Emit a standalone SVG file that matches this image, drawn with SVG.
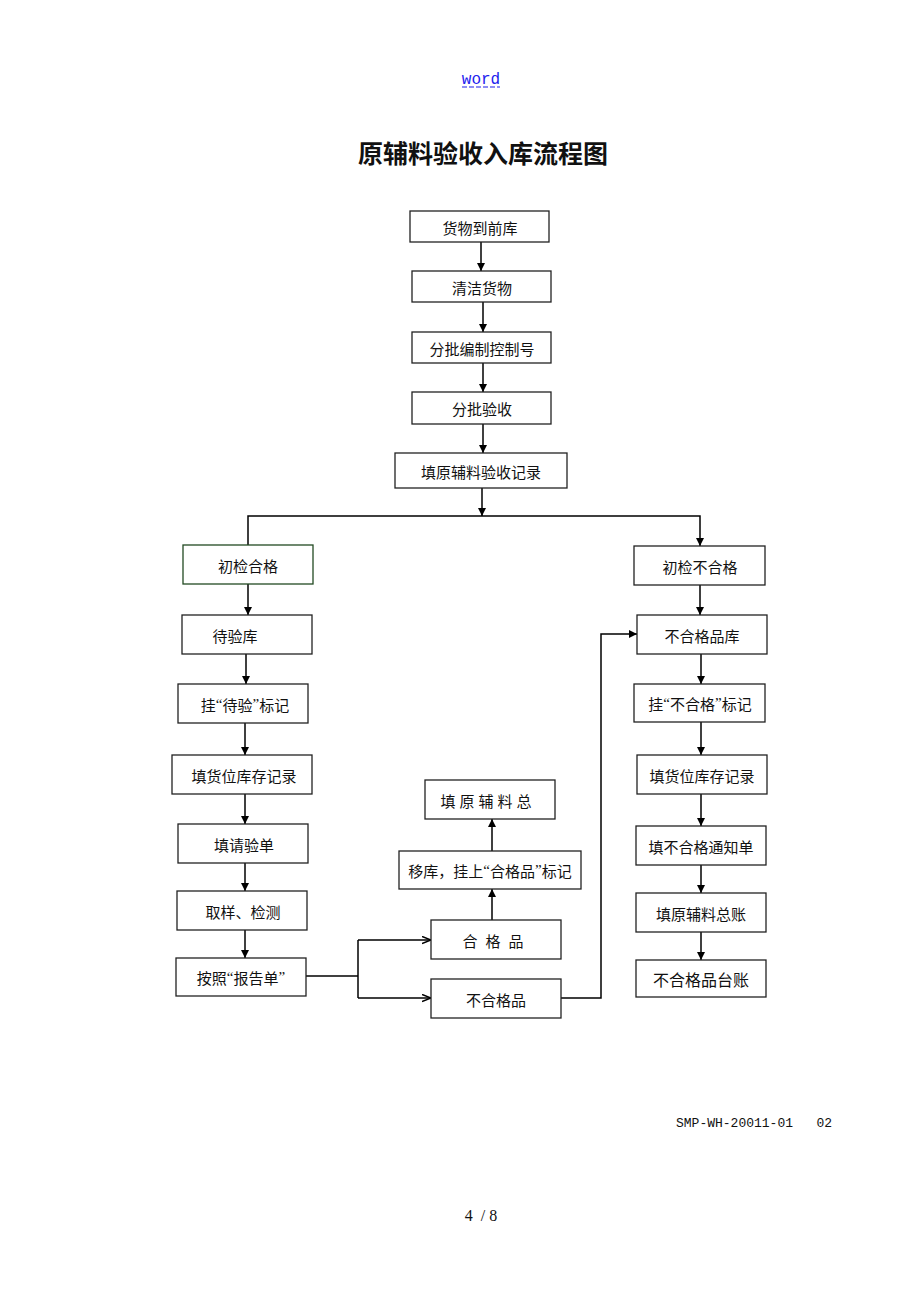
<svg xmlns="http://www.w3.org/2000/svg" width="920" height="1302" viewBox="0 0 920 1302">
<style>
.b{fill:#fff;stroke:#222;stroke-width:1.3}
.t{font-family:"Noto Sans CJK SC","Liberation Serif",serif;font-size:15px;fill:#111;text-anchor:middle;dominant-baseline:central}
.q{font-family:"Liberation Serif",serif}
.c{fill:none;stroke:#000;stroke-width:1.5}
</style>
<defs>
<marker id="a" viewBox="0 0 10 10" refX="10" refY="5" markerWidth="8" markerHeight="8" markerUnits="userSpaceOnUse" orient="auto"><path d="M0,0L10,5L0,10z" fill="#000"/></marker>
<marker id="o" viewBox="0 0 10 10" refX="10" refY="5" markerWidth="9" markerHeight="9" markerUnits="userSpaceOnUse" orient="auto"><path d="M0,1L10,5L0,9" fill="none" stroke="#000" stroke-width="1.6"/></marker>
</defs>
<rect width="920" height="1302" fill="#fff"/>
<text x="481" y="84" font-family="Liberation Mono,monospace" font-size="16" fill="#2222ee" text-anchor="middle">word</text>
<line x1="462" y1="87" x2="500" y2="87" stroke="#6a6af0" stroke-width="1.3" stroke-dasharray="5,2"/>
<text x="483" y="163" font-family="Noto Sans CJK SC,sans-serif" font-size="25" font-weight="bold" fill="#111" text-anchor="middle">原辅料验收入库流程图</text>
<g id="connectors">
<line class="c" x1="481" y1="242" x2="481" y2="271" marker-end="url(#a)"/>
<line class="c" x1="483" y1="302" x2="483" y2="332" marker-end="url(#a)"/>
<line class="c" x1="483" y1="363" x2="483" y2="392" marker-end="url(#a)"/>
<line class="c" x1="483" y1="424" x2="483" y2="453" marker-end="url(#a)"/>
<line class="c" x1="482" y1="488" x2="482" y2="516" marker-end="url(#a)"/>
<polyline class="c" points="248,545 248,516 700,516 700,546" marker-end="url(#a)"/>
<line class="c" x1="248" y1="584" x2="248" y2="615" marker-end="url(#a)"/>
<line class="c" x1="246" y1="654" x2="246" y2="684" marker-end="url(#a)"/>
<line class="c" x1="245" y1="723" x2="245" y2="755" marker-end="url(#a)"/>
<line class="c" x1="245" y1="794" x2="245" y2="824" marker-end="url(#a)"/>
<line class="c" x1="245" y1="863" x2="245" y2="891" marker-end="url(#a)"/>
<line class="c" x1="245" y1="930" x2="245" y2="958" marker-end="url(#a)"/>
<line class="c" x1="306" y1="976" x2="358" y2="976"/>
<line class="c" x1="358" y1="940" x2="358" y2="998"/>
<line class="c" x1="358" y1="940" x2="431" y2="940" marker-end="url(#o)"/>
<line class="c" x1="358" y1="998" x2="431" y2="998" marker-end="url(#o)"/>
<polyline class="c" points="561,998 601,998 601,634 637,634" marker-end="url(#a)"/>
<line class="c" x1="492" y1="920" x2="492" y2="889" marker-end="url(#a)"/>
<line class="c" x1="492" y1="851" x2="492" y2="819" marker-end="url(#a)"/>
<line class="c" x1="700" y1="585" x2="700" y2="615" marker-end="url(#a)"/>
<line class="c" x1="701" y1="654" x2="701" y2="684" marker-end="url(#a)"/>
<line class="c" x1="701" y1="722" x2="701" y2="755" marker-end="url(#a)"/>
<line class="c" x1="701" y1="794" x2="701" y2="826" marker-end="url(#a)"/>
<line class="c" x1="701" y1="865" x2="701" y2="893" marker-end="url(#a)"/>
<line class="c" x1="701" y1="932" x2="701" y2="960" marker-end="url(#a)"/>
</g>
<g id="n1"><rect class="b" x="410" y="211" width="139" height="31"/><text class="t" x="480" y="227">货物到前库</text></g>
<g id="n2"><rect class="b" x="412" y="271" width="139" height="31"/><text class="t" x="482" y="287">清洁货物</text></g>
<g id="n3"><rect class="b" x="412" y="332" width="139" height="31"/><text class="t" x="482" y="348">分批编制控制号</text></g>
<g id="n4"><rect class="b" x="412" y="392" width="139" height="32"/><text class="t" x="482" y="408">分批验收</text></g>
<g id="n5"><rect class="b" x="395" y="453" width="172" height="35"/><text class="t" x="481" y="471">填原辅料验收记录</text></g>
<g id="l1"><rect class="b" x="183" y="545" width="130" height="39" style="stroke:#234a23"/><text class="t" x="248" y="565">初检合格</text></g>
<g id="l2"><rect class="b" x="182" y="615" width="130" height="39"/><text class="t" x="235" y="635">待验库</text></g>
<g id="l3"><rect class="b" x="178" y="684" width="130" height="39"/><text class="t" x="245" y="704">挂<tspan class="q">“</tspan>待验<tspan class="q">”</tspan>标记</text></g>
<g id="l4"><rect class="b" x="172" y="755" width="140" height="39"/><text class="t" x="244" y="775">填货位库存记录</text></g>
<g id="l5"><rect class="b" x="178" y="824" width="130" height="39"/><text class="t" x="244" y="844">填请验单</text></g>
<g id="l6"><rect class="b" x="177" y="891" width="130" height="39"/><text class="t" x="243" y="911">取样、检测</text></g>
<g id="l7"><rect class="b" x="176" y="958" width="130" height="38"/><text class="t" x="241" y="977">按照<tspan class="q">“</tspan>报告单<tspan class="q">”</tspan></text></g>
<g id="m1"><rect class="b" x="425" y="780" width="130" height="39"/><text class="t" x="488" y="800" letter-spacing="4">填原辅料总</text></g>
<g id="m2"><rect class="b" x="399" y="851" width="182" height="38"/><text class="t" x="490" y="870">移库，挂上<tspan class="q">“</tspan>合格品<tspan class="q">”</tspan>标记</text></g>
<g id="m3"><rect class="b" x="431" y="920" width="130" height="39"/><text class="t" x="497" y="940" letter-spacing="8">合格品</text></g>
<g id="m4"><rect class="b" x="431" y="979" width="130" height="39"/><text class="t" x="496" y="999">不合格品</text></g>
<g id="r1"><rect class="b" x="634" y="546" width="131" height="39"/><text class="t" x="700" y="566">初检不合格</text></g>
<g id="r2"><rect class="b" x="637" y="615" width="130" height="39"/><text class="t" x="702" y="635">不合格品库</text></g>
<g id="r3"><rect class="b" x="634" y="684" width="131" height="38"/><text class="t" x="700" y="703">挂<tspan class="q">“</tspan>不合格<tspan class="q">”</tspan>标记</text></g>
<g id="r4"><rect class="b" x="637" y="755" width="130" height="39"/><text class="t" x="702" y="775">填货位库存记录</text></g>
<g id="r5"><rect class="b" x="636" y="826" width="130" height="39"/><text class="t" x="701" y="846">填不合格通知单</text></g>
<g id="r6"><rect class="b" x="636" y="893" width="130" height="39"/><text class="t" x="701" y="913">填原辅料总账</text></g>
<g id="r7"><rect class="b" x="636" y="960" width="130" height="37"/><text class="t" x="701" y="979" style="font-size:16px">不合格品台账</text></g>
<text x="676" y="1127" font-family="Liberation Mono,monospace" font-size="13" fill="#111" xml:space="preserve">SMP-WH-20011-01   02</text>
<text x="481" y="1221" font-family="Liberation Serif,serif" font-size="16" fill="#111" text-anchor="middle" xml:space="preserve">4  / 8</text>
</svg>
